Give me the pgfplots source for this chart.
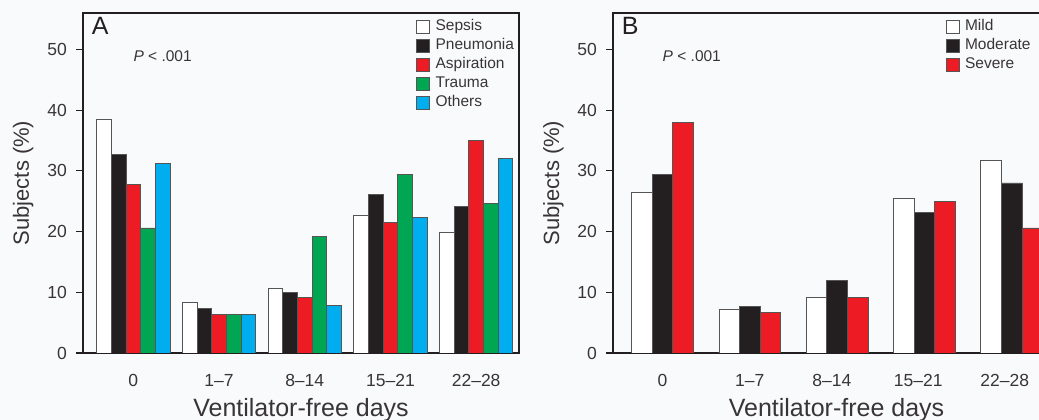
\documentclass[border=0pt]{standalone}
\usepackage{pgfplots}
\pgfplotsset{compat=1.18}
\usepackage{fontspec}
\setmainfont{Liberation Sans}
\definecolor{cred}{RGB}{237,28,36}
\definecolor{cgreen}{RGB}{0,166,81}
\definecolor{ccyan}{RGB}{0,174,239}
\definecolor{cblack}{RGB}{35,31,32}
\definecolor{bg}{RGB}{249,250,252}
\definecolor{edge}{RGB}{85,85,85}
\pgfplotsset{
  panel/.style={
    scale only axis, anchor=south west,
    ymin=0, ymax=56,
    ybar=0pt,
    axis line style={line width=1.6pt, cblack},
    ytick={0,10,20,30,40,50},
    ytick pos=left,
    tick align=outside,
    major tick length=7pt,
    every tick/.style={line width=1.2pt, cblack},
    x tick style={draw=none},
    /pgf/number format/assume math mode=true,
    yticklabel style={font=\fontsize{17.5}{20}\selectfont, inner sep=0pt, anchor=east, xshift=-9pt, text=cblack!90},
    xticklabel style={font=\fontsize{17.5}{20}\selectfont, inner sep=0pt, anchor=base, yshift=-27pt, text=cblack!90},
    xlabel={Ventilator-free days},
    xlabel style={font=\fontsize{25}{28}\selectfont, at={(axis description cs:0.5,0)}, anchor=base, yshift=-64pt, inner sep=0pt, text=cblack!90},
    ylabel={Subjects (\%)},
    ylabel style={font=\fontsize{22}{24}\selectfont, anchor=base, inner sep=0pt, text=cblack!90},
    legend image code/.code={\draw[#1, line width=0.8pt] (0pt,-6.5pt) rectangle (13pt,6.5pt);},
    legend cell align=left,
    legend style={anchor=north west, draw=none, fill=none, inner sep=0pt,
      font=\fontsize{15.5}{17}\selectfont, row sep=4pt,
      /tikz/every odd column/.append style={column sep=5pt},
      nodes={inner sep=0.5pt, text height=11pt, text depth=3pt, text=cblack!90}},
    every axis plot/.append style={draw=edge, line width=0.8pt},
  }
}
\begin{document}
\begin{tikzpicture}
\path[use as bounding box] (0pt,0pt) rectangle (1039pt,420pt);
\fill[bg] (0pt,0pt) rectangle (1039pt,420pt);
\clip (0pt,0pt) rectangle (1039pt,420pt);

\begin{axis}[panel,
  at={(83pt,67pt)}, width=436pt, height=340pt,
  xmin=-0.587, xmax=4.5,
  bar width=14.67pt,
  xtick={0,1,2,3,4},
  xticklabels={0,1\textendash7,8\textendash14,15\textendash21,22\textendash28},
  ylabel style={at={(axis description cs:-0.1239,0.5)}},
  legend style={at={(0.764,0.982)}},
]
\addplot[fill=white] coordinates {(0,38.5) (1,8.3) (2,10.7) (3,22.7) (4,19.9)};
\addplot[fill=cblack] coordinates {(0,32.75) (1,7.3) (2,10.0) (3,26.1) (4,24.2)};
\addplot[fill=cred] coordinates {(0,27.8) (1,6.4) (2,9.1) (3,21.5) (4,35.0)};
\addplot[fill=cgreen] coordinates {(0,20.6) (1,6.4) (2,19.2) (3,29.4) (4,24.7)};
\addplot[fill=ccyan] coordinates {(0,31.2) (1,6.4) (2,7.9) (3,22.3) (4,32.1)};
\legend{Sepsis,Pneumonia,Aspiration,Trauma,Others}
\node[anchor=north west, inner sep=0pt, font=\fontsize{25}{25}\selectfont, text=cblack] at (rel axis cs:0,1) [xshift=8.7pt, yshift=-3.7pt] {A};
\node[anchor=base west, inner sep=0pt, font=\fontsize{15.5}{17}\selectfont, text=cblack!90] at (axis cs:0,48) {\textit{P} < .001};
\end{axis}

\begin{axis}[panel,
  at={(613pt,67pt)}, width=447pt, height=340pt,
  xmin=-0.567, xmax=4.553,
  bar width=20.6pt,
  xtick={0,1.0,1.94,2.93,3.92},
  xticklabels={0,1\textendash7,8\textendash14,15\textendash21,22\textendash28},
  ylabel style={at={(axis description cs:-0.1208,0.5)}},
  legend style={at={(0.744,0.982)}},
]
\addplot[fill=white] coordinates {(0,26.4) (1,7.2) (2,9.1) (3,25.5) (4,31.8)};
\addplot[fill=cblack] coordinates {(0,29.4) (1,7.6) (2,12.0) (3,23.2) (4,28.0)};
\addplot[fill=cred] coordinates {(0,37.9) (1,6.7) (2,9.1) (3,25.0) (4,20.6)};
\legend{Mild,Moderate,Severe}
\node[anchor=north west, inner sep=0pt, font=\fontsize{25}{25}\selectfont, text=cblack] at (rel axis cs:0,1) [xshift=8.7pt, yshift=-3.7pt] {B};
\node[anchor=base west, inner sep=0pt, font=\fontsize{15.5}{17}\selectfont, text=cblack!90] at (axis cs:0,48) {\textit{P} < .001};
\end{axis}
\end{tikzpicture}
\end{document}
